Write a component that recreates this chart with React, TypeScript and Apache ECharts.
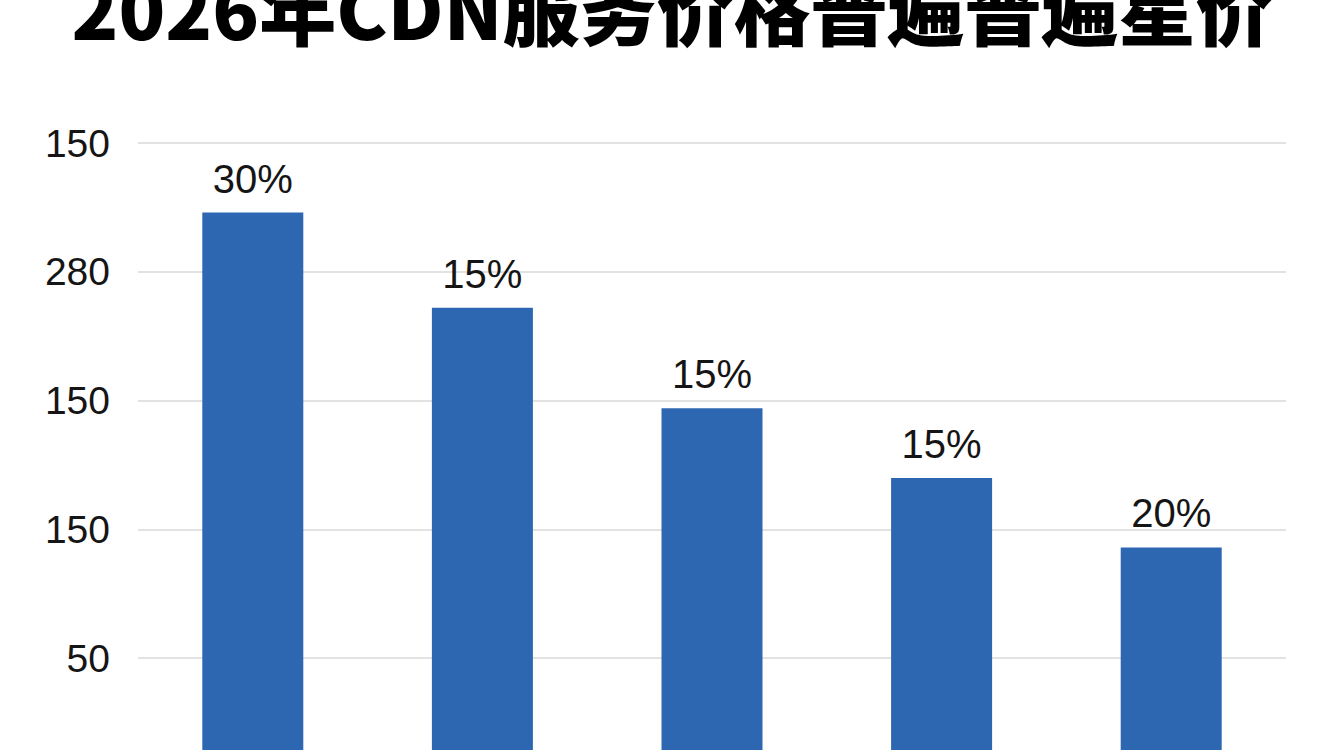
import { useEffect, useRef } from 'react';
import * as echarts from 'echarts';

const categories = ['A', 'B', 'C', 'D', 'E'];
const prices = [223, 186, 147, 120, 93];
const barLabels = ['30%', '15%', '15%', '15%', '20%'];
// tick labels as printed on the picture, keyed by axis value
const tickValues = [50, 100, 150, 200, 250];
const tickLabels = ['50', '150', '150', '280', '150'];

const titleText = '2026年CDN服务价格普遍普遍星价';

const App: React.FC = () => {
  const divRef = useRef<HTMLDivElement | null>(null);

  useEffect(() => {
    if (!divRef.current) return;
    const chart = echarts.init(divRef.current, null, { renderer: 'svg' });
    chart.setOption({
      animation: false,
      backgroundColor: '#ffffff',
      title: {
        text: titleText,
        left: 'center',
        top: -37,
        textStyle: {
          fontSize: 77,
          fontWeight: 900,
          color: '#000000',
          fontFamily: '"Noto Sans CJK SC", sans-serif',
        },
      },
      grid: { left: 138, right: 58, top: 143, bottom: 13 },
      xAxis: {
        type: 'category',
        data: categories,
        axisLine: { show: false },
        axisTick: { show: false },
        axisLabel: { show: false },
      },
      yAxis: {
        type: 'value',
        min: 0,
        max: 250,
        interval: 50,
        axisLine: { show: false },
        axisTick: { show: false },
        splitLine: { lineStyle: { color: '#e2e2e2', width: 2 } },
        axisLabel: {
          margin: 28,
          fontSize: 39,
          color: '#151515',
          fontFamily: '"Liberation Sans", Arial, sans-serif',
          formatter: (v: number) => {
            const i = tickValues.indexOf(v);
            return i >= 0 ? tickLabels[i] : '';
          },
        },
      },
      series: [
        {
          type: 'bar',
          data: prices,
          barWidth: 101,
          itemStyle: { color: '#2d67b1' },
          label: {
            show: true,
            position: 'top',
            distance: 14,
            fontSize: 40,
            color: '#151515',
            fontFamily: '"Liberation Sans", Arial, sans-serif',
            formatter: (p: { dataIndex: number }) => barLabels[p.dataIndex],
          },
        },
      ],
    });
    return () => chart.dispose();
  }, []);

  return (
    <div
      ref={divRef}
      style={{ position: 'fixed', left: 0, top: 0, width: 1344, height: 800 }}
    />
  );
};

export default App;
